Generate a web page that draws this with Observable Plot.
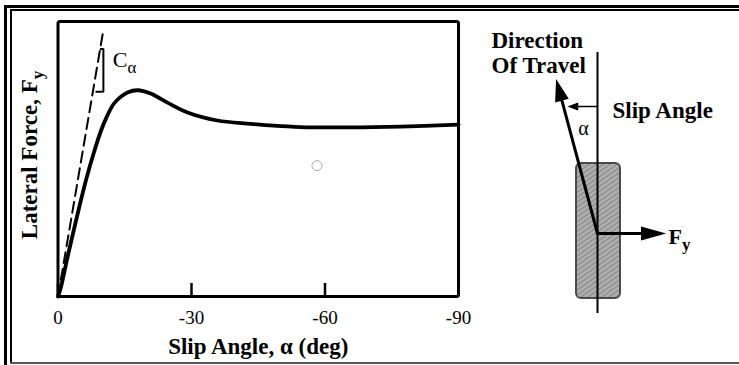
<!DOCTYPE html>
<html>
<head>
<meta charset="utf-8">
<script src="https://cdn.jsdelivr.net/npm/d3@7"></script>
<script src="https://cdn.jsdelivr.net/npm/@observablehq/plot@0.6"></script>
<style>
  html, body { margin: 0; padding: 0; background: #fff; }
  #page { position: relative; width: 739px; height: 365px; overflow: hidden; background: #fff; }
  #page svg { position: absolute; top: 0; }
  .rule { position: absolute; background: #000; }
</style>
</head>
<body>
<div id="page">
  <div class="rule" style="left:4px;top:5px;width:735px;height:3px"></div>
  <div class="rule" style="left:4px;top:5px;width:3px;height:360px"></div>
  <div class="rule" style="left:10px;top:9px;width:729px;height:2px"></div>
  <div class="rule" style="left:10px;top:9px;width:2px;height:355px"></div>
  <div class="rule" style="left:10px;top:362px;width:729px;height:2px;background:#555"></div>
</div>
<script>
// Tire lateral force against slip angle (force normalised to the frame height)
const slipAngle = [0, -0.6, -2.1, -4.4, -6.4, -8.0, -9.6, -11.0, -12.5, -14.0, -15.6, -17.9,
  -20.8, -24.6, -29.1, -35.8, -43.3, -48.4, -54.5, -65.7, -77.0, -90.0];
const lateralForce = [0, 0.03, 0.14, 0.30, 0.43, 0.52, 0.60, 0.655, 0.70, 0.725, 0.742, 0.75,
  0.738, 0.705, 0.669, 0.64, 0.628, 0.621, 0.616, 0.615, 0.618, 0.625];

// Cornering stiffness: tangent to the curve at the origin
const stiffnessAngle = [0, -10.1];
const stiffnessForce = [0, 0.96];

// Slope bracket beside the tangent
const bracketAngle = [-9.6, -10.2, -10.2, -8.6];
const bracketForce = [0.90, 0.90, 0.745, 0.745];

// Small open marker inside the plot
const markerAngle = [-58.2];
const markerForce = [0.476];

const xTicks = [0, -30, -60, -90];
const xTitle = "Slip Angle, \u03b1 (deg)";
const yTitleBase = "Lateral Force, F";
const yTitleSub = "y";

// Tire sketch: wheel plane, contact patch and force arrows
const slipAngleShown = 15;          // degrees between wheel plane and travel direction
const travelArrowLength = 155;
const lateralArrowLength = 63;
const angleArrowLength = 28;
const tire = [{x1: -21, x2: 23, y1: -65, y2: 70}];
const wheelPlane = [{x: 0, y1: -80, y2: 181}];
const diagramLabels = [
  {text: "Direction", x: -106, y: 193},
  {text: "Of Travel", x: -106, y: 168},
  {text: "Slip Angle", x: 15, y: 123}
];

const curve = slipAngle.map((a, i) => ({angle: a, force: lateralForce[i]}));
const tangent = stiffnessAngle.map((a, i) => ({angle: a, force: stiffnessForce[i]}));
const bracket = bracketAngle.map((a, i) => ({angle: a, force: bracketForce[i]}));
const marker = markerAngle.map((a, i) => ({angle: a, force: markerForce[i]}));

const font = "'Liberation Serif', 'Times New Roman', serif";

// shaft with a filled triangular head
function arrowShape(headLength, headHalfWidth) {
  return {
    draw(context, l) {
      context.moveTo(0, 0);
      context.lineTo(0, -l + headLength);
      context.moveTo(-headHalfWidth, -l + headLength);
      context.lineTo(0, -l);
      context.lineTo(headHalfWidth, -l + headLength);
      context.closePath();
    }
  };
}

const chart = Plot.plot({
  width: 739,
  height: 365,
  marginLeft: 57.5,
  marginRight: 281,
  marginTop: 21,
  marginBottom: 69,
  style: {fontFamily: font, color: "#000", background: "transparent"},
  x: {domain: [0, -90]},
  y: {domain: [0, 1], axis: null},
  marks: [
    Plot.frame({strokeWidth: 3, rx: 2}),
    Plot.axisX({ticks: xTicks, tickSize: 0, tickPadding: 14, fontSize: 19,
      tickFormat: d => String(d), label: null}),
    // short inward ticks rising from the bottom edge
    Plot.tickX(xTicks, {x: d => d, insetTop: 262, stroke: "#000", strokeWidth: 2.5}),
    Plot.line(tangent, {x: "angle", y: "force", strokeWidth: 2, strokeDasharray: "11,6"}),
    Plot.line(bracket, {x: "angle", y: "force", strokeWidth: 2, strokeLinejoin: "miter"}),
    Plot.text(["C"], {x: -12.3, y: 0.86, text: d => d, textAnchor: "start", fontSize: 22}),
    Plot.line(curve, {x: "angle", y: "force", curve: "catmull-rom", strokeWidth: 3.8}),
    Plot.dot(marker, {x: "angle", y: "force", r: 5, stroke: "#aaa", strokeWidth: 1}),
    Plot.text([xTitle], {frameAnchor: "bottom", dy: 50, lineAnchor: "middle", textAnchor: "middle",
      text: d => d, fontWeight: "bold", fontSize: 23}),
    Plot.text([yTitleBase], {frameAnchor: "left", dx: -28, dy: -4, rotate: -90,
      lineAnchor: "middle", textAnchor: "middle", text: d => d,
      fontWeight: "bold", fontSize: 23})
  ]
});

const diagram = Plot.plot({
  width: 279,
  height: 365,
  margin: 0,
  style: {fontFamily: font, color: "#000", background: "transparent"},
  x: {domain: [-137, 142], axis: null},
  y: {domain: [-132, 233], axis: null},
  marks: [
    Plot.rect(tire, {x1: "x1", x2: "x2", y1: "y1", y2: "y2", fill: "url(#tread)",
      stroke: "#4a4a4a", strokeWidth: 2, rx: 5}),
    Plot.ruleX(wheelPlane, {x: "x", y1: "y1", y2: "y2", strokeWidth: 2}),
    Plot.vector([{x: 0, y: 0}], {x: "x", y: "y", length: travelArrowLength,
      rotate: -slipAngleShown, anchor: "start", shape: arrowShape(16, 5),
      stroke: "#000", strokeWidth: 3, fill: "#000", strokeLinejoin: "miter"}),
    Plot.vector([{x: 0, y: 0}], {x: "x", y: "y", length: lateralArrowLength,
      rotate: 90, anchor: "start", shape: arrowShape(18, 5),
      stroke: "#000", strokeWidth: 3, fill: "#000", strokeLinejoin: "miter"}),
    Plot.vector([{x: 0, y: 127}], {x: "x", y: "y", length: angleArrowLength,
      rotate: -90, anchor: "start", shape: arrowShape(8, 3),
      stroke: "#000", strokeWidth: 1.5, fill: "#000", strokeLinejoin: "miter"}),
    Plot.text(diagramLabels, {x: "x", y: "y", text: "text", textAnchor: "start",
      fontWeight: "bold", fontSize: 23}),
    Plot.text(["\u03b1"], {x: -14, y: 105, text: d => d, fontSize: 20}),
    Plot.text(["F"], {x: 71, y: -3, text: d => d, textAnchor: "start",
      fontWeight: "bold", fontSize: 22})
  ]
});

// hatched rubber texture for the tire
d3.select(diagram).insert("defs", ":first-child").html(
  `<pattern id="tread" width="4" height="4" patternUnits="userSpaceOnUse" patternTransform="rotate(55)">
     <rect width="4" height="4" fill="#b0b0b0"></rect>
     <rect width="1.3" height="4" fill="#8a8a8a"></rect>
   </pattern>`);

// append subscripts to the labels that carry one
function subscript(svg, base, sub, size) {
  d3.select(svg).selectAll("text")
    .filter(function () { return this.textContent === base; })
    .append("tspan")
    .attr("dy", "0.35em")
    .style("font-size", size)
    .text(sub);
}
subscript(chart, yTitleBase, yTitleSub, "17px");
subscript(chart, "C", "\u03b1", "17px");
subscript(diagram, "F", "y", "17px");

const page = document.getElementById("page");
chart.style.left = "0px";
diagram.style.left = "460px";
page.prepend(diagram);
page.prepend(chart);
</script>
</body>
</html>
